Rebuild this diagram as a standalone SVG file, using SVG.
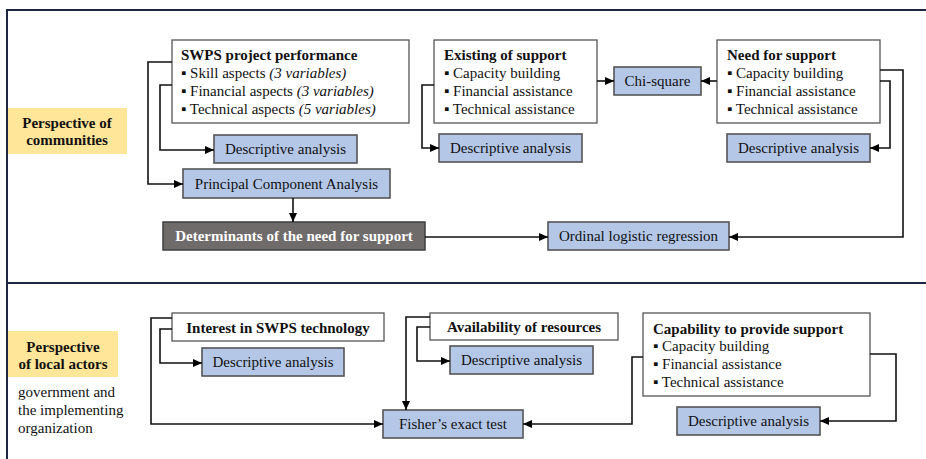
<svg xmlns="http://www.w3.org/2000/svg" width="926" height="459" viewBox="0 0 926 459">
<defs>
<marker id="ah" markerUnits="userSpaceOnUse" markerWidth="10" markerHeight="8" refX="9" refY="4" orient="auto">
<path d="M0,0 L9,4 L0,8 z" fill="#000"/>
</marker>
<style>
text{font-family:"Liberation Serif","Times New Roman",serif;font-size:15px;fill:#111}
.b{font-weight:bold}
.i{font-style:italic}
.m{text-anchor:middle}
.wt{fill:#fff}
.w{fill:#fff;stroke:#555;stroke-width:1.3}
.blue{fill:#b4c7e7;stroke:#555;stroke-width:1.6}
.yel{fill:#ffe699}
.dark{fill:#6f6b6b;stroke:#3f3f3f;stroke-width:1.5}
.frame{fill:none;stroke:#1c2742;stroke-width:2}
.c path{fill:none;stroke:#111;stroke-width:1.6;marker-end:url(#ah)}
</style>
</defs>
<rect width="926" height="459" fill="#fff"/>
<g id="frame">
<path class="frame" d="M7,459 V10 H926 M7,283 H926"/>
</g>
<g id="communities-label">
<rect class="yel" x="8" y="108" width="119" height="46"/>
<text class="b m" x="67" y="128">Perspective of</text>
<text class="b m" x="67" y="145">communities</text>
</g>
<g id="local-actors-label">
<rect class="yel" x="8" y="331" width="110" height="46"/>
<text class="b m" x="63" y="352">Perspective</text>
<text class="b m" x="63" y="369">of local actors</text>
<text x="18" y="397">government and</text>
<text x="18" y="415">the implementing</text>
<text x="18" y="433">organization</text>
</g>
<g id="swps">
<rect class="w" x="172" y="40" width="237" height="83"/>
<text class="b" x="181" y="60">SWPS project performance</text>
<text x="181" y="78">▪ Skill aspects <tspan class="i">(3 variables)</tspan></text>
<text x="181" y="96">▪ Financial aspects <tspan class="i">(3 variables)</tspan></text>
<text x="181" y="114">▪ Technical aspects <tspan class="i">(5 variables)</tspan></text>
</g>
<g id="desc1">
<rect class="blue" x="214" y="135" width="143" height="28"/>
<text class="m" x="285.5" y="154">Descriptive analysis</text>
</g>
<g id="pca">
<rect class="blue" x="183" y="169" width="207" height="29"/>
<text class="m" x="286.5" y="189">Principal Component Analysis</text>
</g>
<g id="determinants">
<rect class="dark" x="163" y="222" width="262" height="28"/>
<text class="b m wt" x="294" y="241">Determinants of the need for support</text>
</g>
<g id="existing">
<rect class="w" x="434" y="40" width="163" height="83"/>
<text class="b" x="444" y="60">Existing of support</text>
<text x="444" y="78">▪ Capacity building</text>
<text x="444" y="96">▪ Financial assistance</text>
<text x="444" y="114">▪ Technical assistance</text>
</g>
<g id="desc2">
<rect class="blue" x="439" y="134" width="143" height="28"/>
<text class="m" x="510.5" y="153">Descriptive analysis</text>
</g>
<g id="chi">
<rect class="blue" x="614" y="67" width="87" height="28"/>
<text class="m" x="657.5" y="86">Chi-square</text>
</g>
<g id="need">
<rect class="w" x="717" y="40" width="163" height="83"/>
<text class="b" x="727" y="60">Need for support</text>
<text x="727" y="78">▪ Capacity building</text>
<text x="727" y="96">▪ Financial assistance</text>
<text x="727" y="114">▪ Technical assistance</text>
</g>
<g id="desc3">
<rect class="blue" x="727" y="134" width="143" height="28"/>
<text class="m" x="798.5" y="153">Descriptive analysis</text>
</g>
<g id="ordinal">
<rect class="blue" x="548" y="222" width="181" height="28"/>
<text class="m" x="638.5" y="241">Ordinal logistic regression</text>
</g>
<g id="interest">
<rect class="w" x="172" y="313" width="212" height="28"/>
<text class="b m" x="278" y="333">Interest in SWPS technology</text>
</g>
<g id="desc4">
<rect class="blue" x="202" y="348" width="142" height="28"/>
<text class="m" x="273" y="367">Descriptive analysis</text>
</g>
<g id="availability">
<rect class="w" x="430" y="313" width="188" height="27"/>
<text class="b m" x="524" y="332">Availability of resources</text>
</g>
<g id="desc5">
<rect class="blue" x="450" y="346" width="143" height="28"/>
<text class="m" x="521.5" y="365">Descriptive analysis</text>
</g>
<g id="fisher">
<rect class="blue" x="383" y="410" width="140" height="28"/>
<text class="m" x="453" y="429">Fisher’s exact test</text>
</g>
<g id="capability">
<rect class="w" x="643" y="313" width="227" height="83"/>
<text class="b" x="653" y="334">Capability to provide support</text>
<text x="653" y="351">▪ Capacity building</text>
<text x="653" y="369">▪ Financial assistance</text>
<text x="653" y="387">▪ Technical assistance</text>
</g>
<g id="desc6">
<rect class="blue" x="677" y="407" width="143" height="28"/>
<text class="m" x="748.5" y="426">Descriptive analysis</text>
</g>
<g id="connectors" class="c">
<path d="M172,62 H148 V184 H183"/>
<path d="M172,85 H160 V150 H214"/>
<path d="M293,198 V222"/>
<path d="M425,237 H548"/>
<path d="M434,85 H422 V148 H439"/>
<path d="M597,81 H614"/>
<path d="M717,81 H701"/>
<path d="M880,81 H890 V148 H870"/>
<path d="M880,70 H903 V237 H729"/>
<path d="M172,318 H151 V424 H383"/>
<path d="M172,329 H160 V363 H202"/>
<path d="M430,317 H406 V410"/>
<path d="M430,327 H417 V361 H450"/>
<path d="M643,357 H632 V424 H523"/>
<path d="M870,354 H896 V421 H820"/>
</g>
</svg>
